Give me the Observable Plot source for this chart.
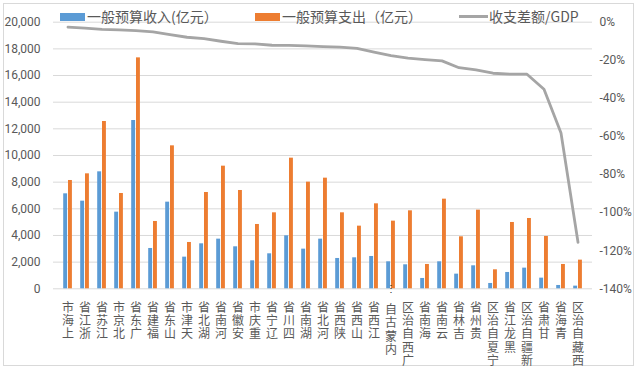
<!DOCTYPE html>
<html><head><meta charset="utf-8">
<script src="https://cdn.jsdelivr.net/npm/d3@7"></script>
<script src="https://cdn.jsdelivr.net/npm/@observablehq/plot@0.6"></script>
<style>
body{margin:0;background:#fff;}
#wrap{position:relative;width:640px;height:372px;overflow:hidden;font-family:"Noto Sans CJK SC",sans-serif;}
#frame{position:absolute;left:3px;top:3px;width:631px;height:363px;border:1px solid #d9d9d9;box-sizing:border-box;}
#chart{position:absolute;left:0;top:0;}
.leg{position:absolute;top:7px;font-size:14px;color:#595959;white-space:nowrap;line-height:18px;}
.sw{position:absolute;}
</style></head><body>
<div id="wrap"><div id="frame"></div><div id="chart"></div><div id="legend"></div></div>
<script>
const provinces = ["上海市","浙江省","江苏省","北京市","广东省","福建省","山东省","天津市","湖北省","河南省","安徽省","重庆市","辽宁省","四川省","湖南省","河北省","陕西省","山西省","江西省","内蒙古自治区","广西自治区","海南省","云南省","吉林省","贵州省","宁夏自治区","黑龙江省","新疆自治区","甘肃省","青海省","西藏自治区"];
const revenue = [7125,6575,8775,5750,12625,3025,6500,2375,3375,3725,3150,2100,2625,3975,2975,3725,2275,2325,2425,2025,1800,775,2025,1100,1725,400,1225,1550,800,250,200];
const expenditure = [8125,8625,12550,7150,17325,5050,10725,3475,7225,9200,7375,4825,5700,9800,8000,8300,5700,4700,6375,5075,5850,1825,6725,3900,5900,1425,4975,5275,3925,1825,2150];
const gapRatio = [-2.6,-3.1,-3.8,-4.0,-4.4,-5.1,-6.5,-7.9,-8.6,-10.0,-11.2,-11.4,-12.1,-12.2,-12.4,-12.8,-13.1,-13.8,-15.7,-17.6,-18.9,-19.6,-20.3,-23.9,-25.0,-26.8,-27.3,-27.3,-35.2,-58.2,-115.6];
const leftTicks = [0,2000,4000,6000,8000,10000,12000,14000,16000,18000,20000];
const rightTicks = [0,-20,-40,-60,-80,-100,-120,-140];
const seriesNames = ["一般预算收入(亿元）","一般预算支出（亿元）","收支差额/GDP"];
const colors = ["#5b9bd5","#ed7d31","#a5a5a5"];

const rows = provinces.map((p,i)=>({province:p, revenue:revenue[i], expenditure:expenditure[i], gap:gapRatio[i]}));
const toLeft = p => (p + 140) / 140 * 20000;
const longLabel = "内蒙古自治区";
// stacked characters reading bottom-to-top (top character = last one)
const labelChars = p => [...(p === longLabel ? "内蒙古自" : p)].reverse();
const maxLines = d3.max(provinces, p => labelChars(p).length);
const lineStep = 13.3;

const axisFont = {fontFamily:"Roboto, sans-serif", fontSize:12, fill:"#595959"};
const labelMarks = [];
for (let k = 0; k < maxLines; k++) {
  const sel = rows.filter(d => labelChars(d.province).length > k);
  const base = {x:"province", frameAnchor:"bottom", textAnchor:"start", lineAnchor:"middle", fontSize:12, fill:"#595959",
                ariaLabel:()=>"province-label", text:d => labelChars(d.province)[k]};
  labelMarks.push(Plot.text(sel.filter(d => d.province !== longLabel), {...base, dy:8.5 + k*lineStep}));
  labelMarks.push(Plot.text(sel.filter(d => d.province === longLabel), {...base, dy:11 + k*lineStep}));
}

const chart = Plot.plot({
  width:640, height:372,
  marginLeft:53, marginRight:48, marginTop:21.7, marginBottom:83.7,
  style:{fontFamily:"'Noto Sans CJK SC', sans-serif", background:"transparent", overflow:"visible"},
  x:{type:"band", domain:provinces, padding:0, axis:null},
  y:{domain:[0,20000], axis:null},
  marks:[
    Plot.ruleY(leftTicks, {stroke:"#d9d9d9", strokeWidth:1}),
    Plot.barY(rows, {x:"province", y:"revenue", fill:colors[0], insetLeft:4.2, insetRight:8.9}),
    Plot.barY(rows, {x:"province", y:"expenditure", fill:colors[1], insetLeft:9.0, insetRight:4.1}),
    Plot.lineY(rows, {x:"province", y:d=>toLeft(d.gap), stroke:colors[2], strokeWidth:2.8, strokeLinejoin:"round"}),
    Plot.text(leftTicks, {y:d=>d, frameAnchor:"left", textAnchor:"end", dx:-13, text:d3.format(","), ...axisFont}),
    Plot.text(rightTicks, {y:toLeft, frameAnchor:"right", textAnchor:"start", dx:7, text:d=>(d===0?"0":"-"+Math.abs(d))+"%", ...axisFont}),
    ...labelMarks,
    Plot.text(rows.filter(d=>d.province===longLabel), {x:"province", frameAnchor:"bottom", dy:3, text:()=>"⋮", fontSize:10, fill:"#333"})
  ]
});
d3.select(chart).selectAll('text[aria-label="province-label"], g[aria-label="province-label"] text')
  .attr("writing-mode","vertical-rl")
  .style("writing-mode","vertical-rl");
document.getElementById("chart").appendChild(chart);

const legend = document.getElementById("legend");
const legPos = [{sw:60, tx:87}, {sw:255, tx:282}, {sw:459, tx:489}];
seriesNames.forEach((name,i)=>{
  const s = document.createElement("div");
  s.className = "sw";
  if (i < 2) { s.style.cssText = `left:${legPos[i].sw}px;top:13px;width:25px;height:8px;background:${colors[i]}`; }
  else { s.style.cssText = `left:${legPos[i].sw}px;top:15px;width:29px;height:3px;background:${colors[i]}`; }
  legend.appendChild(s);
  const t = document.createElement("div");
  t.className = "leg";
  t.style.left = legPos[i].tx + "px";
  t.textContent = name;
  legend.appendChild(t);
});
</script>
</body></html>
